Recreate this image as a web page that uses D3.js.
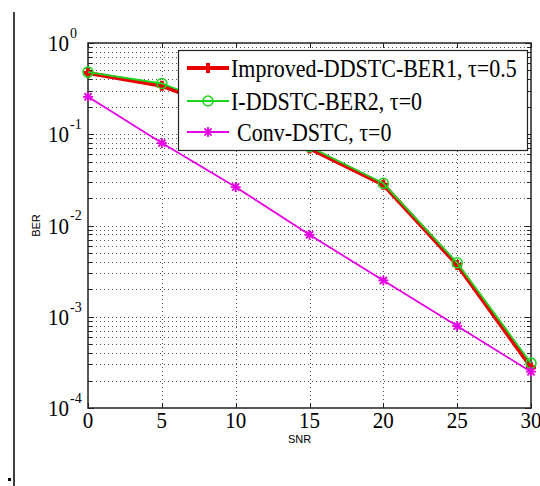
<!DOCTYPE html>
<html>
<head>
<meta charset="utf-8">
<script src="https://cdn.jsdelivr.net/npm/d3@7"></script>
<style>
  body { margin: 0; background: #fff; }
  svg { display: block; }
</style>
</head>
<body>
<div id="chart"></div>
<script>
const snr = [0, 5, 10, 15, 20, 25, 30];
const berImproved = [0.47, 0.34, 0.17, 0.07, 0.028, 0.0037, 0.00028];
const berIDDSTC = [0.48, 0.36, 0.18, 0.073, 0.029, 0.0039, 0.00031];
const berConv = [0.257, 0.080, 0.0264, 0.0079, 0.0025, 0.00079, 0.00025];
const xTicks = [0, 5, 10, 15, 20, 25, 30];
const yDecades = [-4, -3, -2, -1, 0];
const legendLabels = ["Improved-DDSTC-BER1, \u03c4=0.5", "I-DDSTC-BER2, \u03c4=0", "Conv-DSTC, \u03c4=0"];

const width = 540, height = 486;
const plotLeft = 88, plotRight = 531, plotTop = 43, plotBottom = 408;

const svg = d3.select("#chart").append("svg")
  .attr("width", width).attr("height", height);

// stray border from the scan
svg.append("line").attr("x1", 14).attr("x2", 14).attr("y1", 12).attr("y2", 486)
  .attr("stroke", "#000").attr("stroke-width", 1.5);
svg.append("rect").attr("x", 8).attr("y", 478).attr("width", 3).attr("height", 3).attr("fill", "#000");

const x = d3.scaleLinear().domain([0, 30]).range([plotLeft, plotRight]);
const y = d3.scaleLog().domain([1e-4, 1]).range([plotBottom, plotTop]);

// minor / major values on the log axis
const yMinor = [];
yDecades.slice(0, -1).forEach(e => {
  for (let k = 2; k <= 9; k++) yMinor.push(k * Math.pow(10, e));
});
const yMajor = yDecades.map(e => Math.pow(10, e));

const grid = svg.append("g")
  .attr("stroke", "#555").attr("stroke-width", 1).attr("stroke-dasharray", "1,3");

grid.selectAll(".gy").data(yMinor.concat(yMajor.slice(1, -1))).enter().append("line")
  .attr("x1", plotLeft).attr("x2", plotRight)
  .attr("y1", d => Math.round(y(d)) + 0.5).attr("y2", d => Math.round(y(d)) + 0.5);

grid.selectAll(".gx").data(xTicks.slice(1, -1)).enter().append("line")
  .attr("y1", plotTop).attr("y2", plotBottom)
  .attr("x1", d => Math.round(x(d)) + 0.5).attr("x2", d => Math.round(x(d)) + 0.5);

// ticks inside the box
const ticks = svg.append("g").attr("stroke", "#222").attr("stroke-width", 1);
xTicks.forEach(t => {
  const px = Math.round(x(t)) + 0.5;
  ticks.append("line").attr("x1", px).attr("x2", px).attr("y1", plotBottom).attr("y2", plotBottom - 5);
  ticks.append("line").attr("x1", px).attr("x2", px).attr("y1", plotTop).attr("y2", plotTop + 5);
});
yMinor.concat(yMajor).forEach(v => {
  const py = Math.round(y(v)) + 0.5;
  const len = yMajor.includes(v) ? 6 : 4;
  ticks.append("line").attr("x1", plotLeft).attr("x2", plotLeft + len).attr("y1", py).attr("y2", py);
  ticks.append("line").attr("x1", plotRight).attr("x2", plotRight - len).attr("y1", py).attr("y2", py);
});

svg.append("rect")
  .attr("x", plotLeft).attr("y", plotTop).attr("width", plotRight - plotLeft).attr("height", plotBottom - plotTop)
  .attr("fill", "none").attr("stroke", "#222").attr("stroke-width", 1.5);

// tick labels
svg.append("g").selectAll("text").data(xTicks).enter().append("text")
  .attr("transform", d => `translate(${x(d)},428) scale(1,1.1)`)
  .attr("text-anchor", "middle")
  .style("font-family", "'Liberation Serif', 'Times New Roman', serif")
  .style("font-size", "21px")
  .text(d => d);

const yl = svg.append("g").selectAll("text").data(yDecades).enter().append("text")
  .attr("transform", d => `translate(48,${y(Math.pow(10, d)) + 8}) scale(1,1.1)`)
  .style("font-family", "'Liberation Serif', 'Times New Roman', serif")
  .style("font-size", "21px");
yl.append("tspan").text("10");
yl.append("tspan").attr("dx", 1).attr("dy", -12).style("font-size", "14px").text(d => d);

svg.append("text").attr("x", x(15) - 10).attr("y", 443).attr("text-anchor", "middle")
  .style("font-family", "'Liberation Sans', Arial, sans-serif").style("font-size", "11px")
  .text("SNR");
svg.append("text").attr("transform", `translate(40,${y(1e-2)}) rotate(-90)`)
  .attr("text-anchor", "middle")
  .style("font-family", "'Liberation Sans', Arial, sans-serif").style("font-size", "11px")
  .text("BER");

// series
const series = [
  { values: berImproved, color: "#e80000", width: 4, marker: "plus", textX: 231 },
  { values: berIDDSTC, color: "#1fd41f", width: 1.8, marker: "circle", textX: 231 },
  { values: berConv, color: "#e600e6", width: 1.8, marker: "star", textX: 237 }
];

const line = d3.line().x((d, i) => x(snr[i])).y(d => y(d));

function drawMarker(g, kind, color, cx, cy) {
  if (kind === "circle") {
    g.append("circle").attr("cx", cx).attr("cy", cy).attr("r", 5)
      .attr("fill", "none").attr("stroke", color).attr("stroke-width", 1.6);
  } else if (kind === "plus") {
    g.append("path").attr("d", `M${cx - 5},${cy}H${cx + 5}M${cx},${cy - 5}V${cy + 5}`)
      .attr("stroke", color).attr("stroke-width", 4);
  } else {
    const s = 5, d = 3.6;
    g.append("path")
      .attr("d", `M${cx - s},${cy}H${cx + s}M${cx},${cy - s}V${cy + s}M${cx - d},${cy - d}L${cx + d},${cy + d}M${cx - d},${cy + d}L${cx + d},${cy - d}`)
      .attr("stroke", color).attr("stroke-width", 1.8);
  }
}

const plot = svg.append("g");
series.forEach(s => {
  plot.append("path").datum(s.values).attr("d", line)
    .attr("fill", "none").attr("stroke", s.color).attr("stroke-width", s.width)
    .attr("stroke-linejoin", "round");
  s.values.forEach((v, i) => drawMarker(plot, s.marker, s.color, x(snr[i]), y(v)));
});

// legend
const lg = svg.append("g");
lg.append("rect").attr("x", 178.5).attr("y", 50.5).attr("width", 349).attr("height", 100)
  .attr("fill", "#fff").attr("stroke", "#222").attr("stroke-width", 1.2);
const rowsY = [68, 101, 132];
series.forEach((s, i) => {
  lg.append("line").attr("x1", 187).attr("x2", 229).attr("y1", rowsY[i]).attr("y2", rowsY[i])
    .attr("stroke", s.color).attr("stroke-width", s.width);
  drawMarker(lg, s.marker, s.color, 208, rowsY[i]);
  lg.append("text")
    .attr("transform", `translate(${s.textX},${rowsY[i] + 9}) scale(1,1.12)`)
    .style("font-family", "'Liberation Serif', 'Times New Roman', serif")
    .style("font-size", "22px")
    .text(legendLabels[i]);
});
</script>
</body>
</html>
